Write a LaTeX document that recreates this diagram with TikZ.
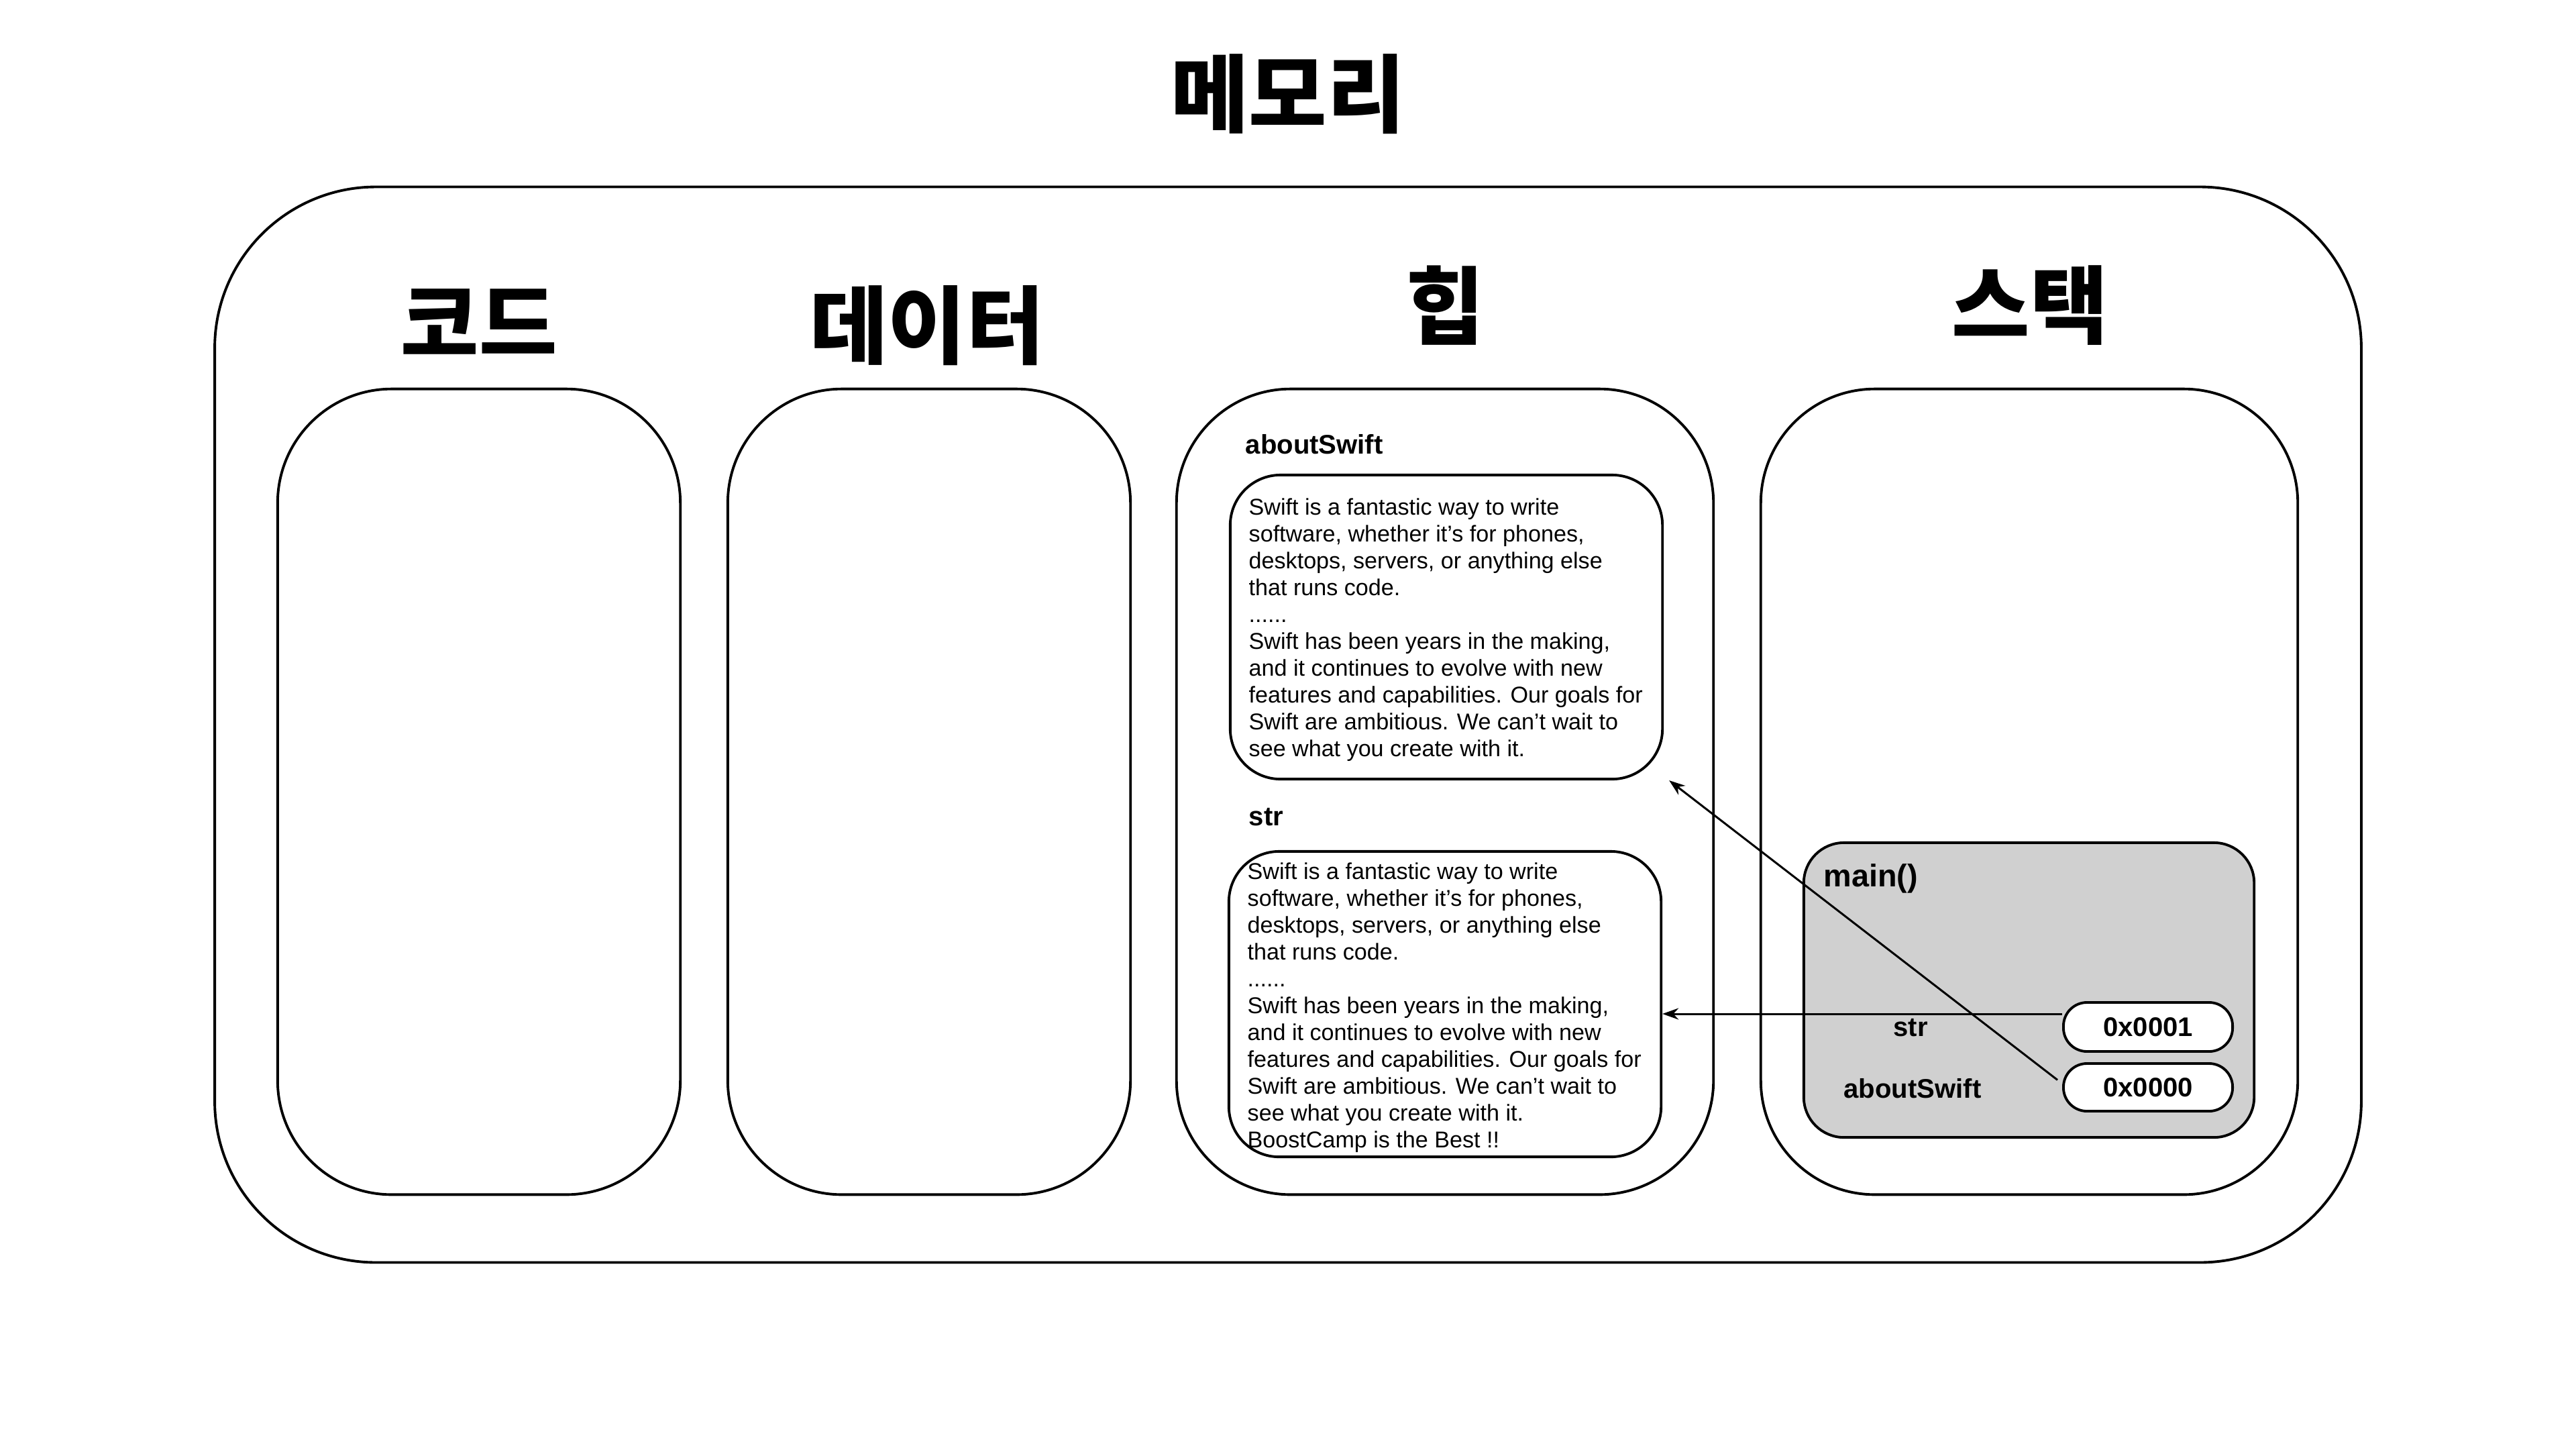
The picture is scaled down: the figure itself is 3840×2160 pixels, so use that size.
\documentclass[tikz,border=0pt]{standalone}
\usepackage{fontspec}
\setmainfont{Liberation Sans}
\newfontfamily\kr{Noto Sans CJK KR}
\usetikzlibrary{arrows.meta}
\definecolor{mainfill}{RGB}{208,208,208}
\tikzset{
  frame/.style={draw=black, line width=1.1pt, rounded corners=#1, inner sep=0pt},
  krtitle/.style={font=\kr\bfseries\fontsize{36}{42}\selectfont, inner sep=0pt},
  body/.style={font=\fontsize{9.7}{11.38}\selectfont, align=left, anchor=west, inner sep=0pt},
  lbl/.style={font=\bfseries\fontsize{11.4}{13}\selectfont, inner sep=0pt},
  arr/.style={line width=0.85pt, -{Stealth[length=0.24cm,width=0.17cm]}},
}
\begin{document}
\begin{tikzpicture}[x=0.01cm, y=-0.01cm]
\useasboundingbox (0,0) rectangle (3840,2160);

% title
\node[krtitle] (title) at (1920,140) {메모리};

% outer box
\node[frame=2.4cm, minimum width=31.98cm, minimum height=16.02cm] (outer) at (1920,1080) {};

% section titles
\node[krtitle] (tcode) at (714,480) {코드};
\node[krtitle] (tdata) at (1382,485) {데이터};
\node[krtitle] (theap) at (2155,455) {힙};
\node[krtitle] (tstack) at (3026,455) {스택};

% columns
\node[frame=1.7cm, minimum width=6cm, minimum height=12cm] (code) at (714,1180) {};
\node[frame=1.7cm, minimum width=6cm, minimum height=12cm] (data) at (1385,1180) {};
\node[frame=1.7cm, minimum width=8cm, minimum height=12cm] (heap) at (2154,1180) {};
\node[frame=1.7cm, minimum width=8cm, minimum height=12cm] (stack) at (3025,1180) {};

% heap contents
\node[lbl, anchor=west] (labout) at (1856,662) {aboutSwift};
\node[frame=0.75cm, minimum width=6.44cm, minimum height=4.53cm] (sbox1) at (2156,934.5) {};
\node[body] (t1) at (1861,939) {Swift is a fantastic way to write\\
software, whether it’s for phones,\\
desktops, servers, or anything else\\
that runs code.\\
......\\
Swift has been years in the making,\\
and it continues to evolve with new\\
features and capabilities. Our goals for\\
Swift are ambitious. We can’t wait to\\
see what you create with it.};

\node[lbl, anchor=west] (lstr) at (1861,1218) {str};
\node[frame=0.75cm, minimum width=6.44cm, minimum height=4.55cm] (sbox2) at (2154,1496.5) {};
\node[body] (t2) at (1859,1502) {Swift is a fantastic way to write\\
software, whether it’s for phones,\\
desktops, servers, or anything else\\
that runs code.\\
......\\
Swift has been years in the making,\\
and it continues to evolve with new\\
features and capabilities. Our goals for\\
Swift are ambitious. We can’t wait to\\
see what you create with it.\\
BoostCamp is the Best !!};

% stack contents
\node[frame=0.6cm, fill=mainfill, minimum width=6.71cm, minimum height=4.39cm] (mainf) at (3024.5,1475.5) {};
\node[font=\bfseries\fontsize{13.3}{15}\selectfont, inner sep=0pt, anchor=west] (lmain) at (2718,1309) {main()};
\node[frame=0.35cm, fill=white, minimum width=2.52cm, minimum height=0.73cm, lbl] (addr1) at (3202,1530.5) {0x0001};
\node[frame=0.35cm, fill=white, minimum width=2.52cm, minimum height=0.71cm, lbl] (addr0) at (3202,1620.5) {0x0000};
\node[lbl] (vstr) at (2848,1532) {str};
\node[lbl] (vabout) at (2851,1622) {aboutSwift};

% pointers
\draw[arr] ([yshift=0.195cm]addr1.west) -- ([yshift=0.195cm]addr1.west -| sbox2.east);
\draw[arr] ([xshift=-0.07cm,yshift=0.11cm]addr0.west) -- ([xshift=0.08cm]sbox1.south east);
\end{tikzpicture}
\end{document}
